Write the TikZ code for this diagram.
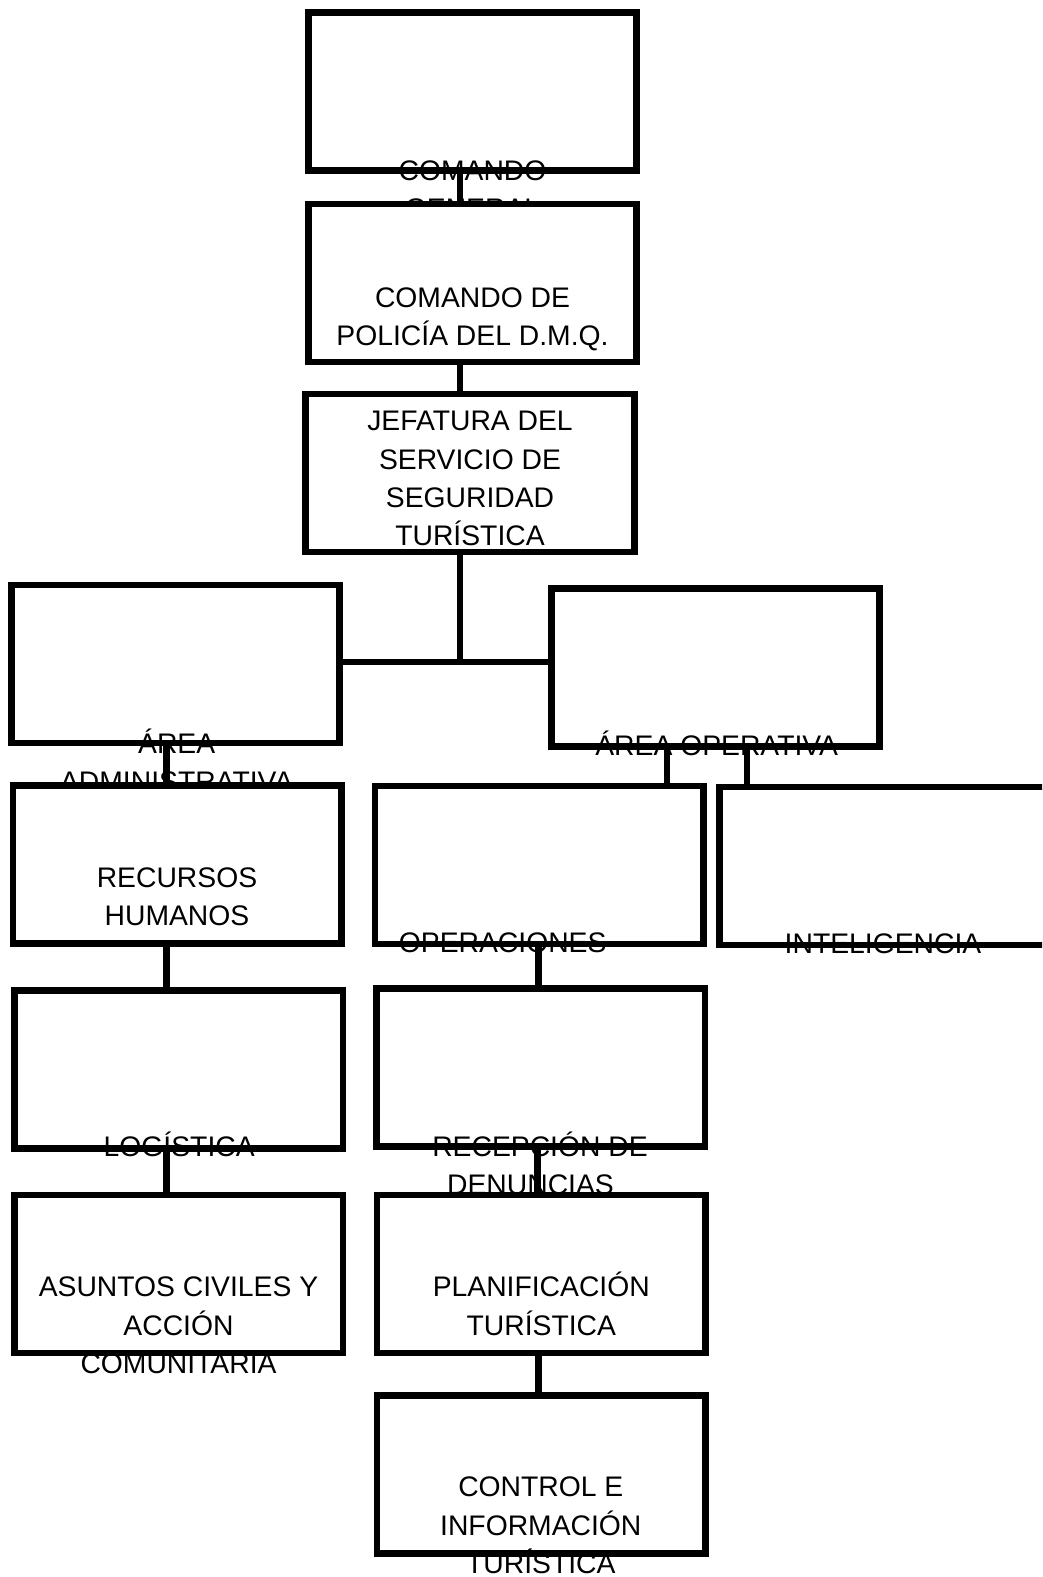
\documentclass[tikz,border=0pt]{standalone}
\usepackage{fontspec}
\setmainfont{Liberation Sans}
\begin{document}
\begin{tikzpicture}[x=1pt,y=-1pt,
  box/.style={draw, line width=6.6pt, fill=white, minimum width=328.5pt, minimum height=158pt, inner sep=0pt},
  lbl/.style={anchor=base, inner sep=0pt, align=center, font=\fontsize{28.3}{38.3}\selectfont},
  conn/.style={line width=6.8pt}]
\useasboundingbox (0,0) rectangle (1042,1577);
\clip (0,0) rectangle (1042,1577);
% boxes and labels, in drawing order (anchor=base is the last line's baseline)
\node[box] (cg) at (472.5,91.2) {};
\node[lbl] (cgt) at (472.5,218.3) {COMANDO\\GENERAL};
\node[box] (dmq) at (472.5,282.9) {};
\node[lbl] (dmqt) at (472.5,345.8) {COMANDO DE\\POLICÍA DEL D.M.Q.};
\node[box] (jef) at (470,473) {};
\node[lbl] (jeft) at (470,545.6) {JEFATURA DEL\\SERVICIO DE\\SEGURIDAD\\TURÍSTICA};
\node[box] (aadm) at (175.5,664) {};
\node[lbl] (aadmt) at (176.7,791.3) {ÁREA\\ADMINISTRATIVA};
\node[box] (aop) at (715.5,667.5) {};
\node[lbl] (aopt) at (716.7,755) {ÁREA OPERATIVA};
\node[box] (rh) at (177.2,864.2) {};
\node[lbl] (rht) at (177,925.6) {RECURSOS\\HUMANOS};
\node[box] (op) at (539.2,865) {};
\node[lbl] (opt) at (502.7,952.7) {OPERACIONES};
\node[box] (intel) at (883.5,865.8) {};
\node[lbl] (intelt) at (883,953.3) {INTELIGENCIA};
\node[box] (lg) at (178.8,1069.2) {};
\node[lbl] (lgt) at (179.2,1156.7) {LOGÍSTICA};
\node[box] (rc) at (540.8,1067.2) {};
\node[lbl] (rct) at (540,1194.3) {RECEPCIÓN DE\\DENUNCIAS\hspace*{19pt}};
\node[box] (as) at (178.8,1273.9) {};
\node[lbl] (ast) at (178.5,1373.3) {ASUNTOS CIVILES Y\\ACCIÓN\\COMUNITARIA};
\node[box] (pl) at (541.3,1273.9) {};
\node[lbl] (plt) at (541.3,1335) {PLANIFICACIÓN\\TURÍSTICA};
\node[box] (ct) at (541.3,1474.2) {};
\node[lbl] (ctt) at (540.8,1573.3) {CONTROL E\\INFORMACIÓN\\TURÍSTICA};
% connectors
\coordinate (j) at (460,662);
\draw[conn] ([xshift=-12.5pt]cg.south) -- ([xshift=-12.5pt]dmq.north);
\draw[conn] ([xshift=-12.5pt]dmq.south) -- ([xshift=-10pt]jef.north);
\draw[conn] ([xshift=-10pt]jef.south) -- (j);
\draw[conn] (aadm.east |- j) -- (aop.west |- j);
\draw[conn] ([xshift=-8.8pt]aadm.south) -- ([xshift=-8.8pt]aadm.south |- rh.north);
\draw[conn] ([xshift=-10.5pt]rh.south) -- ([xshift=-10.5pt]rh.south |- lg.north);
\draw[conn] ([xshift=-12.1pt]lg.south) -- ([xshift=-12.1pt]lg.south |- as.north);
\draw[conn] ([xshift=-48.5pt]aop.south) -- ([xshift=-48.5pt]aop.south |- op.north);
\draw[conn] ([xshift=31.5pt]aop.south) -- ([xshift=31.5pt]aop.south |- intel.north);
\draw[conn] ([xshift=-0.9pt]op.south) -- ([xshift=-0.9pt]op.south |- rc.north);
\draw[conn] ([xshift=-3.5pt]rc.south) -- ([xshift=-3.5pt]rc.south |- pl.north);
\draw[conn] ([xshift=-3pt]pl.south) -- ([xshift=-3pt]pl.south |- ct.north);
\end{tikzpicture}
\end{document}
